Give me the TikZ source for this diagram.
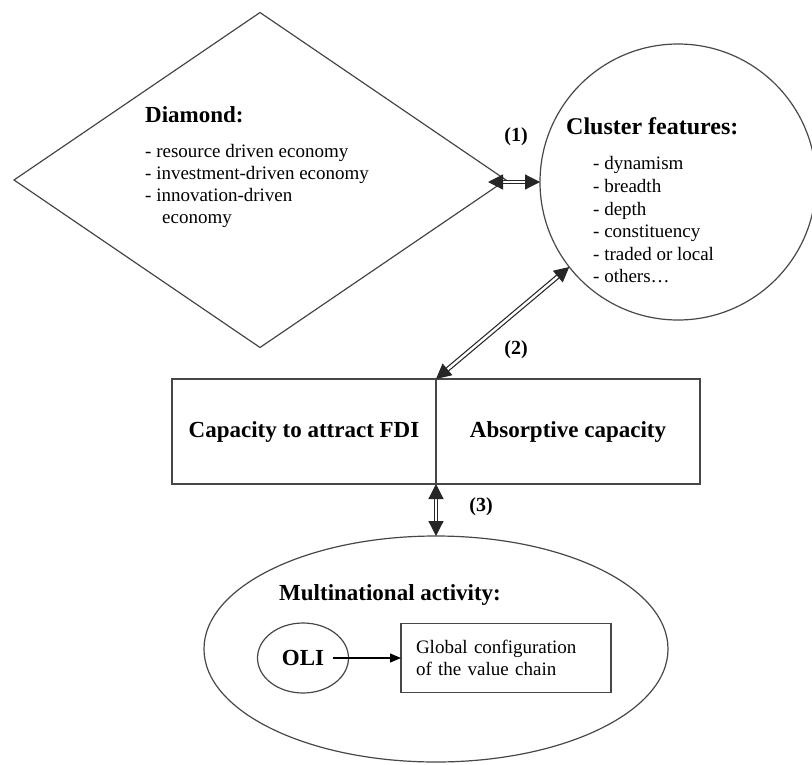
\documentclass[tikz,border=0pt]{standalone}
\usepackage{fontspec}
\setmainfont{Liberation Serif}
\usetikzlibrary{shapes.geometric,arrows.meta}
\begin{document}
\begin{tikzpicture}[x=1pt,y=-1pt,
  shp/.style={draw=black!72, line width=1.2pt, inner sep=0pt, outer sep=0pt},
  head/.style={font=\fontsize{23}{27}\selectfont\bfseries, inner sep=0pt, anchor=base west},
  lst/.style={font=\fontsize{19}{21.8}\selectfont, inner sep=0pt, anchor=north west, align=left},
  lbl/.style={font=\fontsize{20}{24}\selectfont\bfseries, inner sep=0pt},
  dbl/.style={draw=black!85, line width=1.2pt, double=white, double distance=2.4pt,
     {Triangle[length=15pt,width=15pt]}-{Triangle[length=15pt,width=15pt]}},
]
\useasboundingbox (0,0) rectangle (812,764);

% diamond
\node[shp, diamond, minimum width=492pt, minimum height=335pt] (dia) at (260,180) {};
\node[head] (diah) at (145,122) {Diamond:};
\node[lst] (dial) at (145,144.5) {- resource driven economy\\- investment-driven economy\\- innovation-driven\\\hspace*{17pt}economy};

% cluster circle
\node[shp, circle, minimum size=276pt] (clu) at (678,182) {};
\node[head, font=\fontsize{24}{28}\selectfont\bfseries] (cluh) at (566,134) {Cluster features:};
\node[lst, font=\fontsize{19}{22.6}\selectfont] (clul) at (593,156.5) {- dynamism\\- breadth\\- depth\\- constituency\\- traded or local\\- others\dots};

% capacity box
\node[shp, rectangle, minimum width=264pt, minimum height=105pt, font=\fontsize{23}{27}\selectfont\bfseries] (cap) at (304,431.5) {Capacity to attract FDI};
\node[shp, rectangle, minimum width=264pt, minimum height=105pt, font=\fontsize{23}{27}\selectfont\bfseries] (abs) at (568,431.5) {Absorptive capacity};

% multinational ellipse
\node[shp, ellipse, minimum width=464pt, minimum height=226pt] (mne) at (436,649) {};
\node[head] (mneh) at (279,600) {Multinational activity:};
\node[shp, ellipse, minimum width=91pt, minimum height=70pt, font=\fontsize{23}{27}\selectfont\bfseries] (oli) at (303,658) {OLI};
\node[shp, rectangle, minimum width=210pt, minimum height=69pt, text width=180pt, align=left, font=\fontsize{19}{22.5}\selectfont] (gvc) at (506,658) {Global configuration\\of the value chain};
\coordinate (olis) at (333,658);
\draw[line width=1.2pt, -{Triangle[length=11pt,width=9pt]}] (olis) -- (gvc.west);

% double arrows
\coordinate (a1) at (488,182);
\draw[dbl] (a1) -- (clu.west);
\draw[dbl] (cap.north east) -- (clu.218);
\draw[dbl] (cap.south east) -- (mne.north);

\node[lbl] (l1) at (516,137) {(1)};
\node[lbl] (l2) at (516,350) {(2)};
\node[lbl] (l3) at (481,507) {(3)};
\end{tikzpicture}
\end{document}
